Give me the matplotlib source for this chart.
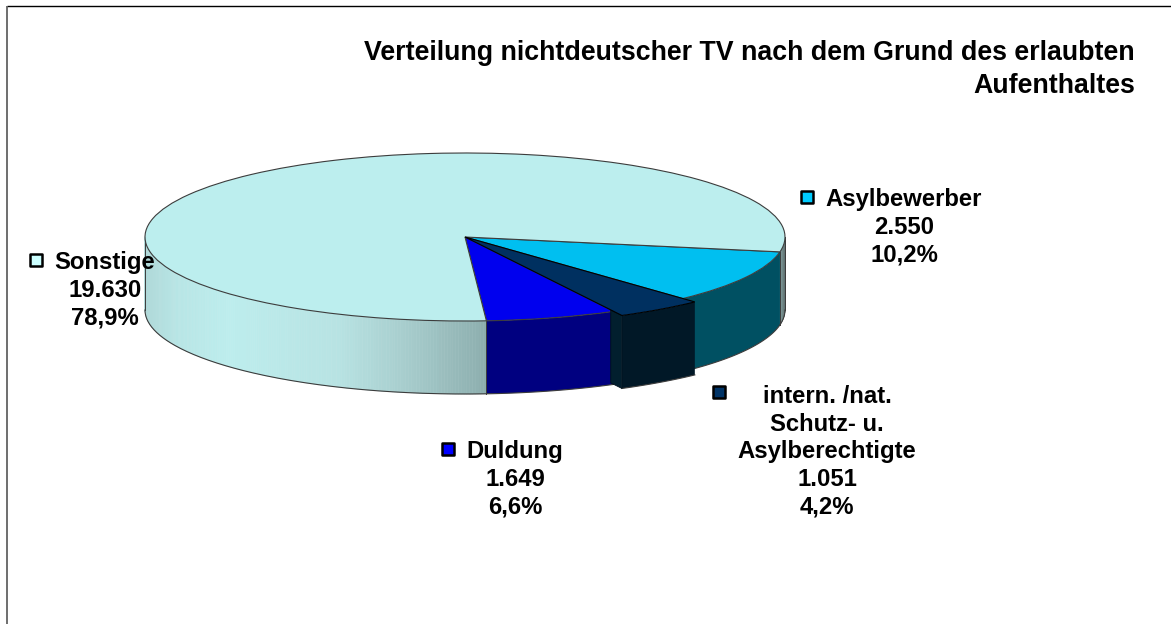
import numpy as np
import matplotlib
matplotlib.use('Agg')
import matplotlib.pyplot as plt

plt.rcParams['font.family'] = ['Liberation Sans', 'DejaVu Sans']

W, H = 1171, 624

title = ['Verteilung nichtdeutscher TV nach dem Grund des erlaubten', 'Aufenthaltes']

names = ['Asylbewerber', 'intern. /nat.\nSchutz- u.\nAsylberechtigte', 'Duldung', 'Sonstige']
values = [2550, 1051, 1649, 19630]
shares = ['10,2%', '4,2%', '6,6%', '78,9%']

top_colors = ['#00BFF0', '#003060', '#0000EE', '#BCEEEE']
wall_colors = ['#005062', '#011827', '#000080', None]
key_colors = ['#00CCFF', '#003366', '#0000FF', '#CCFFFF']

# label layout in picture pixels: text centre, first baseline, key position
label_x = [904, 827, 515, 105]
label_y = [206, 403, 458, 269]
key_xy = [(807, 197), (719, 392), (448, 449), (36, 260)]

# pie geometry in picture pixels
cx, cy, rx, ry = 465, 237, 320, 84
depth = 73 / ry
pull = 1.055
start = 10.2

# shading of the big wall, by x on the unit ellipse
shade_x = [-1.0, -0.9, -0.74, -0.4, -0.2, 0.07, 0.98, 1.0]
shade_r = [0.69, 0.72, 0.74, 0.72, 0.66, 0.55, 0.55, 0.36]
shade_g = [0.85, 0.90, 0.93, 0.89, 0.81, 0.68, 0.68, 0.42]
shade_b = [0.85, 0.90, 0.93, 0.89, 0.81, 0.68, 0.68, 0.42]

EDGE = '#3c3c3c'


def arc(t1, t2, radius=1.0, drop=0.0, n=80):
    t = np.radians(np.linspace(t1, t2, n))
    return radius * np.cos(t), -radius * np.sin(t) - drop


def wall(ax, t1, t2, color, radius=1.0, z=1):
    x1, y1 = arc(t1, t2, radius)
    x2, y2 = arc(t2, t1, radius, depth)
    ax.fill(np.r_[x1, x2], np.r_[y1, y2], color=color, lw=0, zorder=z)
    ax.plot(x2, y2, color=EDGE, lw=0.8, zorder=z)


def shaded_wall(ax, t1, t2, step=0.5):
    angles = np.arange(t1, t2, step)
    for a in angles:
        mid = np.cos(np.radians(a + step / 2))
        c = (np.interp(mid, shade_x, shade_r),
             np.interp(mid, shade_x, shade_g),
             np.interp(mid, shade_x, shade_b))
        x1, y1 = arc(a, a + step, n=2)
        x2, y2 = arc(a + step, a, drop=depth, n=2)
        ax.fill(np.r_[x1, x2], np.r_[y1, y2], color=c, ec=c, lw=0.4, zorder=1)
    x, y = arc(t1, t2, drop=depth, n=200)
    ax.plot(x, y, color=EDGE, lw=0.8, zorder=1.5)


fig = plt.figure(figsize=(W / 100, H / 100), dpi=100)

# whole-figure axes, one data unit is one pie radius
pie_ax = fig.add_axes([0, 0, 1, 1])
wedges, _ = pie_ax.pie(values, colors=top_colors, startangle=-start, counterclock=False,
                       wedgeprops={'edgecolor': EDGE, 'linewidth': 0.8, 'zorder': 2})
pie_ax.set_aspect('auto')
pie_ax.set_xlim(-cx / rx, (W - cx) / rx)
pie_ax.set_ylim((cy - H) / ry, cy / ry)
pie_ax.axis('off')

sweep = np.cumsum([0] + values) / sum(values) * 360 + start

# side walls
shaded_wall(pie_ax, 0, start)
wall(pie_ax, sweep[0], sweep[1], wall_colors[0])
wall(pie_ax, sweep[2], sweep[3], wall_colors[2])
shaded_wall(pie_ax, sweep[3], 180)
for t in [0, start, sweep[1], sweep[3], 180]:
    x, y = arc(t, t, n=1)
    pie_ax.plot([x[0], x[0]], [y[0], y[0] - depth], color=EDGE, lw=0.7, zorder=1.6)

# the pulled out slice, drawn over its neighbours
wall(pie_ax, sweep[1], sweep[2], wall_colors[1], radius=pull, z=3)
a = np.radians(sweep[2])
rr = np.array([0.98, pull, pull, 0.98])
dd = np.array([0, 0, depth, depth])
pie_ax.fill(rr * np.cos(a), -rr * np.sin(a) - dd, color='#021F2E', ec='#01101c', lw=0.6, zorder=3.1)
wedges[1].set_radius(pull)
wedges[1].set_edgecolor('#000000')
wedges[1].set_zorder(4)

# overlay in picture pixels for frame and labels
ax = fig.add_axes([0, 0, 1, 1])
ax.set_xlim(0, W)
ax.set_ylim(H, 0)
ax.axis('off')
ax.patch.set_alpha(0)

ax.plot([7, W], [6, 6], color='black', lw=1, solid_capstyle='butt')
ax.plot([7, 7], [6, H], color='#555555', lw=1.2, solid_capstyle='butt')

ax.text(1135, 60, title[0], ha='right', va='baseline', fontsize=19.3, fontweight='bold')
ax.text(1135, 93, title[1], ha='right', va='baseline', fontsize=19.3, fontweight='bold')

for name, val, share, lx, ly, key, col in zip(names, values, shares, label_x, label_y, key_xy, key_colors):
    number = f'{val:,}'.replace(',', '.')
    lines = name.split('\n') + [number, share]
    for i, line in enumerate(lines):
        ax.text(lx, ly + i * 27.6, line, ha='center', va='baseline', fontsize=17.2,
                fontweight='bold', color='black', zorder=5)
    ax.scatter([key[0]], [key[1]], marker='s', s=80, color=col, edgecolor='black', linewidth=1.8, zorder=5)

fig.savefig('out.png', dpi=100)
